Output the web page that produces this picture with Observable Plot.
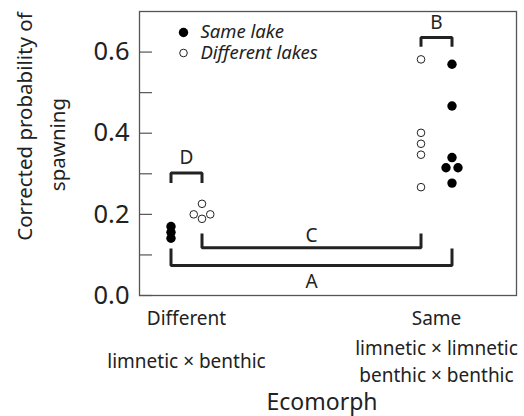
<!DOCTYPE html>
<html>
<head>
<meta charset="utf-8">
<script src="https://cdn.jsdelivr.net/npm/d3@7"></script>
<script src="https://cdn.jsdelivr.net/npm/@observablehq/plot@0.6"></script>
<style>
  html, body { margin: 0; padding: 0; background: white; }
</style>
</head>
<body>
<div id="chart"></div>
<script>
// ---- data ----
const categories = ["Different", "Same"];
const categoryDesc = ["limnetic × benthic", "limnetic × limnetic\nbenthic × benthic"];
const groups = ["Same lake", "Different lakes"];

// corrected probability of spawning
const sameLakeDifferent = [0.170, 0.156, 0.141];
const diffLakesDifferent = [0.226, 0.200, 0.200, 0.189];
const diffLakesSame = [0.582, 0.401, 0.374, 0.347, 0.267];
const sameLakeSame = [0.570, 0.467, 0.340, 0.315, 0.315, 0.277];
// small horizontal jitter (category units) used in the original to separate overlapping points
const jitterDiffLakesDifferent = [0, -0.033, 0.033, 0];
const jitterSameLakeSame = [0, 0, 0, -0.024, 0.024, 0];

const yTicks = [0, 0.1, 0.2, 0.3, 0.4, 0.5, 0.6];
const yTickLabels = [0, 0.2, 0.4, 0.6];

// significance brackets
const bracketLabels = ["D", "B", "C", "A"];
const bracketFrom = [[0, "Same lake"], [1, "Different lakes"], [0, "Different lakes"], [0, "Same lake"]];
const bracketTo = [[0, "Different lakes"], [1, "Same lake"], [1, "Different lakes"], [1, "Same lake"]];
const bracketLevel = [0.302, 0.636, 0.118, 0.074];
const bracketTip = [0.277, 0.613, 0.153, 0.116];
const bracketLabelY = [0.338, 0.672, 0.148, 0.033];

// ---- build tables ----
const groupOffset = {"Same lake": -0.062, "Different lakes": 0.062};
// at "Same" ecomorph, the order is flipped (open left, filled right)
function gx(cat, grp) {
  const o = groupOffset[grp];
  return cat + (cat === 0 ? o : -o);
}
const points = [];
sameLakeDifferent.forEach(v => points.push({x: gx(0, "Same lake"), y: v, g: "Same lake"}));
diffLakesDifferent.forEach((v, i) => points.push({x: gx(0, "Different lakes") + jitterDiffLakesDifferent[i], y: v, g: "Different lakes"}));
diffLakesSame.forEach(v => points.push({x: gx(1, "Different lakes"), y: v, g: "Different lakes"}));
sameLakeSame.forEach((v, i) => points.push({x: gx(1, "Same lake") + jitterSameLakeSame[i], y: v, g: "Same lake"}));

const bracketPaths = [];
const bracketText = [];
bracketLabels.forEach((lab, i) => {
  const x1 = gx(bracketFrom[i][0], bracketFrom[i][1]);
  const x2 = gx(bracketTo[i][0], bracketTo[i][1]);
  bracketPaths.push({b: lab, x: x1, y: bracketTip[i]});
  bracketPaths.push({b: lab, x: x1, y: bracketLevel[i]});
  bracketPaths.push({b: lab, x: x2, y: bracketLevel[i]});
  bracketPaths.push({b: lab, x: x2, y: bracketTip[i]});
  bracketText.push({b: lab, x: (x1 + x2) / 2, y: bracketLabelY[i]});
});

const xDomain = [-0.188, 1.32];
const ink = "#222";
const font = "'Noto Sans', 'Open Sans', sans-serif";
const mid = {textAnchor: "middle", lineAnchor: "middle", fill: ink};

const chart = Plot.plot({
  width: 524,
  height: 416,
  marginLeft: 139,
  marginRight: 8,
  marginTop: 11,
  marginBottom: 121,
  style: {fontFamily: font, background: "white", color: ink},
  x: {domain: xDomain, axis: null},
  y: {domain: [0, 0.7], axis: null},
  marks: [
    Plot.frame({stroke: "#555", strokeWidth: 1.3}),
    Plot.ruleY(yTicks, {x1: xDomain[0], x2: xDomain[0] + 0.052, stroke: "#555", strokeWidth: 1.2}),
    Plot.axisY({ticks: yTickLabels, tickFormat: d3.format(".1f"), tickSize: 0, tickPadding: 10, fontSize: 25.5, label: null, fill: ink}),
    // brackets
    Plot.line(bracketPaths, {x: "x", y: "y", z: "b", stroke: ink, strokeWidth: 3, strokeLinejoin: "miter", strokeLinecap: "butt", curve: "linear"}),
    Plot.text(bracketText, {x: "x", y: "y", text: "b", fontSize: 19, ...mid}),
    // points
    Plot.dot(points.filter(d => d.g === "Different lakes"), {x: "x", y: "y", r: 3.8, stroke: ink, strokeWidth: 1, fill: "white"}),
    Plot.dot(points.filter(d => d.g === "Same lake"), {x: "x", y: "y", r: 4.7, fill: "black", stroke: "none"}),
    // legend
    Plot.dot([groups[0]], {frameAnchor: "top-left", dx: 44, dy: 21, r: 4.7, fill: "black"}),
    Plot.dot([groups[1]], {frameAnchor: "top-left", dx: 44, dy: 41.5, r: 3.8, fill: "white", stroke: ink, strokeWidth: 1}),
    Plot.text([groups[0]], {frameAnchor: "top-left", dx: 61, dy: 20.5, text: d => d, fontSize: 18.5, fontStyle: "italic", ...mid, textAnchor: "start"}),
    Plot.text([groups[1]], {frameAnchor: "top-left", dx: 61, dy: 41.5, text: d => d, fontSize: 18.5, fontStyle: "italic", ...mid, textAnchor: "start"}),
    // x category labels
    Plot.text(categories, {x: (d, i) => i, frameAnchor: "bottom", dy: 23, text: d => d, fontSize: 19, ...mid}),
    Plot.text(categoryDesc, {x: (d, i) => i, frameAnchor: "bottom", dy: 64, text: d => d, fontSize: 19, lineHeight: 1.45, ...mid}),
    // x title
    Plot.text(["Ecomorph"], {frameAnchor: "bottom", dx: -6, dy: 107, text: d => d, fontSize: 23, ...mid}),
    // y title
    Plot.text(["Corrected probability of"], {frameAnchor: "left", rotate: -90, dx: -114, dy: -27, text: d => d, fontSize: 20.5, ...mid}),
    Plot.text(["spawning"], {frameAnchor: "left", rotate: -90, dx: -81, dy: -9, text: d => d, fontSize: 20.5, ...mid})
  ]
});
document.getElementById("chart").appendChild(chart);
</script>
</body>
</html>
